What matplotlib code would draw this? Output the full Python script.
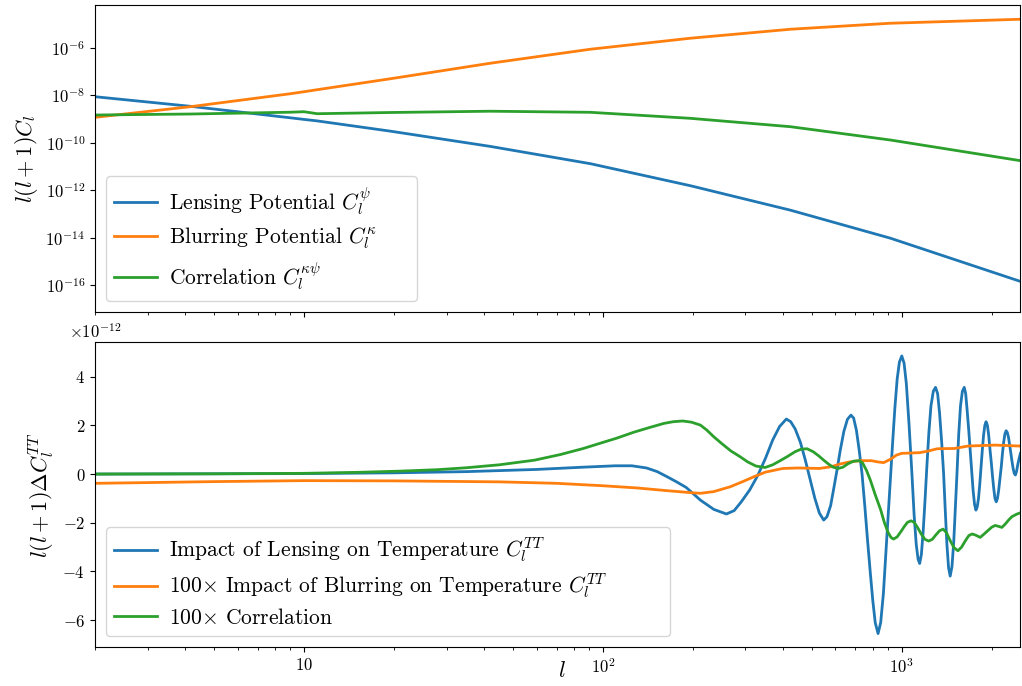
import numpy as np
import matplotlib
matplotlib.use("Agg")
import matplotlib.pyplot as plt
from matplotlib.ticker import NullLocator

plt.rcParams["font.family"] = "serif"
plt.rcParams["font.serif"] = ["cmr10"]
plt.rcParams["mathtext.fontset"] = "cm"
plt.rcParams["axes.formatter.use_mathtext"] = True
plt.rcParams["axes.formatter.min_exponent"] = 2
plt.rcParams["lines.linewidth"] = 2.0

# top panel: log10 of l(l+1)C_l
l_top = [2, 4.17, 9.01, 10, 11.07, 19.5, 42, 90.8, 196, 424, 915, 2495]
lens_pot = [-8.063, -8.467, -8.952, -9.019, -9.082, -9.516, -10.156,
            -10.884, -11.811, -12.842, -14.021, -15.844]
blur_pot = [-8.931, -8.484, -7.937, -7.853, -7.768, -7.305, -6.653,
            -6.063, -5.600, -5.221, -4.968, -4.800]
corr_pot = [-8.834, -8.792, -8.716, -8.695, -8.779, -8.728, -8.674,
            -8.720, -8.973, -9.326, -9.886, -10.758]

# bottom panel: l(l+1) Delta C_l^TT in units of 1e-12
l_lens = [2, 10, 20, 35, 60, 85, 110, 125, 140, 152, 164, 177, 190, 212,
          235, 259,
          275, 290, 310, 330, 350, 370, 390, 411,
          425, 440, 458, 475, 493, 512, 530, 548,
          562, 578, 592, 607, 622, 640, 658, 676,
          690, 705, 720, 736, 752, 768, 785, 800, 815, 833,
          850, 868, 885, 900, 916, 932, 948, 965, 982, 1000,
          1018, 1036, 1058, 1081, 1100, 1118, 1134, 1148,
          1163, 1180, 1197, 1213, 1232, 1252, 1275, 1297,
          1318, 1338, 1360, 1380, 1398, 1416, 1434, 1452,
          1472, 1492, 1511, 1530, 1550, 1572, 1595, 1618,
          1636, 1655, 1675, 1694, 1714, 1733, 1752, 1770,
          1788, 1806, 1824, 1842, 1860, 1878, 1896, 1914,
          1934, 1953, 1973, 1992, 2012, 2031, 2050, 2070,
          2090, 2110, 2130, 2152, 2172, 2192, 2213, 2234,
          2254, 2275, 2295, 2316, 2337, 2358, 2378, 2399,
          2420, 2445, 2470, 2495]
lens_tt = [0.0, 0.02, 0.05, 0.10, 0.19, 0.28, 0.34, 0.34, 0.25, 0.10,
           -0.11, -0.33, -0.55, -1.07, -1.45, -1.64,
           -1.50, -1.15, -0.65, -0.05, 0.65, 1.40, 1.95, 2.26,
           2.15, 1.85, 1.30, 0.60, -0.20, -1.00, -1.60, -1.89,
           -1.75, -1.30, -0.60, 0.16, 0.95, 1.75, 2.25, 2.42,
           2.30, 1.80, 1.00, 0.03, -1.30, -2.70, -4.08, -5.20, -6.10, -6.55,
           -6.10, -4.90, -3.20, -1.70, -0.25, 1.30, 2.70, 3.90, 4.60, 4.85,
           4.55, 3.70, 2.00, 0.03, -1.70, -2.90, -3.50, -3.67,
           -3.30, -2.30, -1.00, 0.30, 1.70, 2.80, 3.40, 3.56,
           3.30, 2.50, 1.30, 0.03, -1.50, -2.90, -3.85, -4.19,
           -3.80, -2.80, -1.40, 0.03, 1.60, 2.80, 3.40, 3.56,
           3.30, 2.60, 1.80, 0.99, 0.10, -0.70, -1.25, -1.48,
           -1.35, -1.00, -0.40, 0.30, 1.00, 1.60, 2.00, 2.15,
           2.00, 1.60, 1.00, 0.50, -0.10, -0.60, -1.00, -1.14,
           -1.00, -0.65, -0.20, 0.30, 0.85, 1.30, 1.65, 1.78,
           1.71, 1.51, 1.21, 0.87, 0.53, 0.23, 0.03, -0.04,
           0.10, 0.40, 0.65, 0.85]

l_blur = [2, 3, 5, 10, 20, 45, 70, 100, 130, 160, 195, 212, 235, 267, 295,
          320, 350, 400, 450, 530, 580, 620, 670, 725, 790, 830, 870, 920,
          960, 1000, 1150, 1230, 1315, 1500, 1580, 1665, 2050, 2495]
blur_tt = [-0.38, -0.35, -0.31, -0.27, -0.28, -0.32, -0.38, -0.48, -0.57,
           -0.67, -0.76, -0.79, -0.72, -0.52, -0.30, -0.11, 0.08, 0.23, 0.25,
           0.23, 0.30, 0.41, 0.50, 0.55, 0.55, 0.50, 0.47, 0.62, 0.78, 0.85,
           0.88, 0.95, 1.04, 1.05, 1.10, 1.15, 1.19, 1.15]

l_corr = [2, 5, 10, 15, 21, 28, 35, 45, 59, 72, 86, 100, 111, 127, 144,
          160, 172, 185, 198, 212, 223, 235, 250, 268, 288, 305, 325, 349,
          370, 392, 413, 440, 460, 482, 505, 527, 548, 570, 590, 612, 635,
          660, 690, 721, 740, 762, 785, 815, 849, 875, 900, 920, 938, 965,
          995, 1020, 1045, 1074, 1100, 1130, 1160, 1195, 1230, 1265, 1300,
          1337, 1374, 1410, 1450, 1495, 1541, 1585, 1630, 1675, 1718, 1760,
          1830, 1890, 1950, 2000, 2054, 2110, 2163, 2220, 2280, 2336, 2420,
          2495]
corr_tt = [0.0, 0.01, 0.03, 0.07, 0.12, 0.18, 0.26, 0.38, 0.57, 0.80, 1.05,
           1.30, 1.47, 1.72, 1.92, 2.08, 2.15, 2.18, 2.13, 2.01, 1.80, 1.53,
           1.25, 0.95, 0.71, 0.50, 0.33, 0.27, 0.38, 0.55, 0.71, 0.92, 1.02,
           1.04, 0.92, 0.75, 0.57, 0.40, 0.28, 0.23, 0.28, 0.42, 0.53, 0.55,
           0.45, 0.15, -0.25, -0.85, -1.45, -2.00, -2.40, -2.60, -2.67,
           -2.58, -2.35, -2.15, -1.98, -1.92, -1.98, -2.20, -2.45, -2.68,
           -2.75, -2.68, -2.50, -2.33, -2.26, -2.40, -2.72, -3.02, -3.15,
           -3.00, -2.75, -2.53, -2.46, -2.50, -2.60, -2.45, -2.30, -2.18,
           -2.11, -2.15, -2.19, -2.05, -1.88, -1.75, -1.65, -1.59]

fig = plt.figure(figsize=(10.22, 6.86), dpi=100)
ax1 = fig.add_axes([0.093, 0.5456, 0.9055, 0.4471])
ax2 = fig.add_axes([0.093, 0.0569, 0.9055, 0.4441], sharex=ax1)

ax1.plot(l_top, 10.0 ** np.array(lens_pot), label=r"Lensing Potential $C_l^{\psi}$")
ax1.plot(l_top, 10.0 ** np.array(blur_pot), label=r"Blurring Potential $C_l^{\kappa}$")
ax1.plot(l_top, 10.0 ** np.array(corr_pot), label=r"Correlation $C_l^{\kappa\psi}$")
ax1.set_xscale("log")
ax1.set_yscale("log")
ax1.set_ylim(10 ** -17.12, 10 ** -4.2)
ax1.yaxis.set_minor_locator(NullLocator())
ax1.set_ylabel(r"$l(l+1)C_l$", fontsize=16)
ax1.tick_params(labelbottom=False, labelsize=12)
ax1.legend(loc="lower left", fontsize=15.5, labelspacing=0.42,
           handletextpad=0.55, bbox_to_anchor=(0, 0, 0.3595, 1),
           mode="expand")

ax2.plot(l_lens, np.array(lens_tt) * 1e-12,
         label=r"Impact of Lensing on Temperature $C_l^{TT}$")
ax2.plot(l_blur, np.array(blur_tt) * 1e-12,
         label=r"100$\times$ Impact of Blurring on Temperature $C_l^{TT}$")
ax2.plot(l_corr, np.array(corr_tt) * 1e-12,
         label=r"100$\times$ Correlation")
ax2.set_xlim(2, 2495)
ax2.set_ylim(-7.1e-12, 5.41e-12)
ax2.set_xlabel(r"$l$", fontsize=16)
ax2.xaxis.set_label_coords(0.505, -0.045)
ax2.set_ylabel(r"$l(l+1)\Delta C_l^{TT}$", fontsize=16)
ax2.tick_params(labelsize=12)
off = ax2.yaxis.get_offset_text()
off.set_fontsize(12)
off.set_horizontalalignment("center")
ax2.legend(loc="lower left", fontsize=15.5, labelspacing=0.3,
           handletextpad=0.55, bbox_to_anchor=(0, 0, 0.633, 1),
           mode="expand")

fig.savefig("out.png", dpi=100)
